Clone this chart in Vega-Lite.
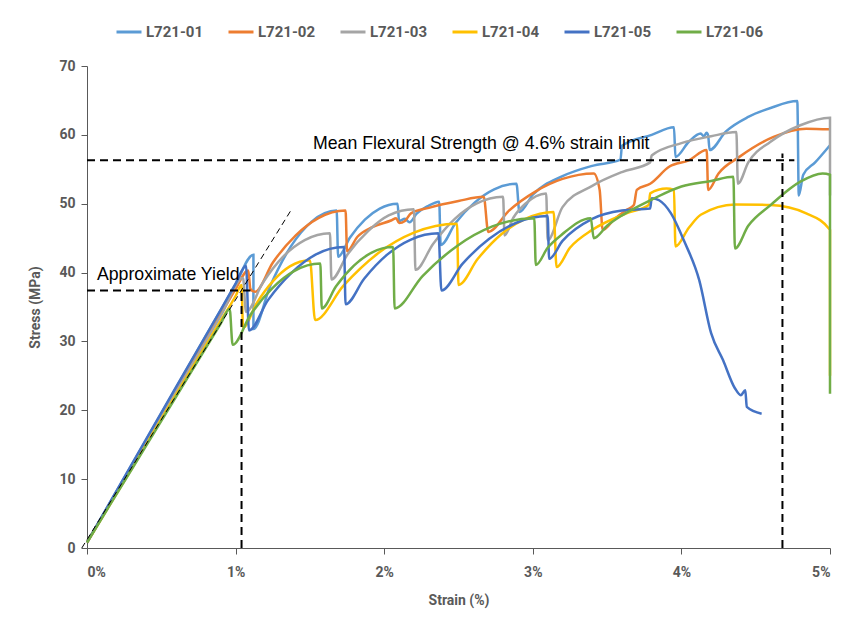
{
  "$schema": "https://vega.github.io/schema/vega-lite/v6.json",
  "autosize": {"type": "none"},
  "width": 743,
  "height": 482,
  "padding": {"left": 87, "top": 66, "right": 23, "bottom": 78},
  "background": "white",
  "config": {
    "view": {"stroke": null},
    "axis": {
      "grid": false,
      "domainColor": "#595959",
      "tickColor": "#595959",
      "tickSize": 6,
      "labelFont": "Roboto, sans-serif",
      "labelFontWeight": "bold",
      "labelFontSize": 14,
      "labelColor": "#595959",
      "titleFont": "Roboto, sans-serif",
      "titleFontWeight": "bold",
      "titleFontSize": 14,
      "titleColor": "#595959"
    }
  },
  "datasets": {
    "curves": [
      {"sample": "L721-01", "strain": 0, "stress": 0.8},
      {"sample": "L721-01", "strain": 0.3, "stress": 12.05},
      {"sample": "L721-01", "strain": 0.6, "stress": 23.3},
      {"sample": "L721-01", "strain": 0.9, "stress": 34.55},
      {"sample": "L721-01", "strain": 1.0, "stress": 38.3},
      {"sample": "L721-01", "strain": 1.12, "stress": 42.6},
      {"sample": "L721-01", "strain": 1.12, "stress": 31.8},
      {"sample": "L721-01", "strain": 1.232, "stress": 38.0},
      {"sample": "L721-01", "strain": 1.372, "stress": 43.8},
      {"sample": "L721-01", "strain": 1.512, "stress": 47.4},
      {"sample": "L721-01", "strain": 1.68, "stress": 49.0},
      {"sample": "L721-01", "strain": 1.69, "stress": 42.3},
      {"sample": "L721-01", "strain": 1.77, "stress": 45.1},
      {"sample": "L721-01", "strain": 1.87, "stress": 47.7},
      {"sample": "L721-01", "strain": 1.97, "stress": 49.3},
      {"sample": "L721-01", "strain": 2.09, "stress": 50.0},
      {"sample": "L721-01", "strain": 2.10, "stress": 47.5},
      {"sample": "L721-01", "strain": 2.14, "stress": 47.8},
      {"sample": "L721-01", "strain": 2.17, "stress": 47.3},
      {"sample": "L721-01", "strain": 2.22, "stress": 48.6},
      {"sample": "L721-01", "strain": 2.29, "stress": 49.6},
      {"sample": "L721-01", "strain": 2.37, "stress": 50.3},
      {"sample": "L721-01", "strain": 2.38, "stress": 44.0},
      {"sample": "L721-01", "strain": 2.48, "stress": 47.2},
      {"sample": "L721-01", "strain": 2.61, "stress": 50.2},
      {"sample": "L721-01", "strain": 2.74, "stress": 52.1},
      {"sample": "L721-01", "strain": 2.89, "stress": 52.9},
      {"sample": "L721-01", "strain": 2.91, "stress": 48.8},
      {"sample": "L721-01", "strain": 3.0, "stress": 51.3},
      {"sample": "L721-01", "strain": 3.2, "stress": 54.0},
      {"sample": "L721-01", "strain": 3.4, "stress": 55.5},
      {"sample": "L721-01", "strain": 3.59, "stress": 56.4},
      {"sample": "L721-01", "strain": 3.60, "stress": 58.4},
      {"sample": "L721-01", "strain": 3.8, "stress": 60.0},
      {"sample": "L721-01", "strain": 3.95, "stress": 61.1},
      {"sample": "L721-01", "strain": 3.96, "stress": 56.8},
      {"sample": "L721-01", "strain": 4.05, "stress": 59.0},
      {"sample": "L721-01", "strain": 4.13, "stress": 60.2},
      {"sample": "L721-01", "strain": 4.15, "stress": 59.8},
      {"sample": "L721-01", "strain": 4.17, "stress": 60.3},
      {"sample": "L721-01", "strain": 4.18, "stress": 59.9},
      {"sample": "L721-01", "strain": 4.19, "stress": 57.8},
      {"sample": "L721-01", "strain": 4.3, "stress": 60.5},
      {"sample": "L721-01", "strain": 4.45, "stress": 62.6},
      {"sample": "L721-01", "strain": 4.6, "stress": 63.9},
      {"sample": "L721-01", "strain": 4.78, "stress": 64.9},
      {"sample": "L721-01", "strain": 4.79, "stress": 51.2},
      {"sample": "L721-01", "strain": 4.82, "stress": 54.2},
      {"sample": "L721-01", "strain": 4.9, "stress": 56.0},
      {"sample": "L721-01", "strain": 5.0, "stress": 58.5},

      {"sample": "L721-02", "strain": 0, "stress": 0.8},
      {"sample": "L721-02", "strain": 0.3, "stress": 11.8},
      {"sample": "L721-02", "strain": 0.6, "stress": 22.9},
      {"sample": "L721-02", "strain": 0.9, "stress": 33.9},
      {"sample": "L721-02", "strain": 1.0, "stress": 37.6},
      {"sample": "L721-02", "strain": 1.085, "stress": 40.3},
      {"sample": "L721-02", "strain": 1.10, "stress": 37.6},
      {"sample": "L721-02", "strain": 1.13, "stress": 37.2},
      {"sample": "L721-02", "strain": 1.252, "stress": 41.5},
      {"sample": "L721-02", "strain": 1.405, "stress": 45.4},
      {"sample": "L721-02", "strain": 1.557, "stress": 47.9},
      {"sample": "L721-02", "strain": 1.74, "stress": 49.0},
      {"sample": "L721-02", "strain": 1.75, "stress": 43.1},
      {"sample": "L721-02", "strain": 1.82, "stress": 45.2},
      {"sample": "L721-02", "strain": 1.92, "stress": 46.6},
      {"sample": "L721-02", "strain": 2.05, "stress": 47.6},
      {"sample": "L721-02", "strain": 2.08, "stress": 47.9},
      {"sample": "L721-02", "strain": 2.10, "stress": 47.2},
      {"sample": "L721-02", "strain": 2.14, "stress": 47.5},
      {"sample": "L721-02", "strain": 2.18, "stress": 48.6},
      {"sample": "L721-02", "strain": 2.3, "stress": 49.4},
      {"sample": "L721-02", "strain": 2.5, "stress": 50.4},
      {"sample": "L721-02", "strain": 2.67, "stress": 51.0},
      {"sample": "L721-02", "strain": 2.70, "stress": 45.9},
      {"sample": "L721-02", "strain": 2.84, "stress": 49.0},
      {"sample": "L721-02", "strain": 3.02, "stress": 51.8},
      {"sample": "L721-02", "strain": 3.20, "stress": 53.6},
      {"sample": "L721-02", "strain": 3.41, "stress": 54.4},
      {"sample": "L721-02", "strain": 3.45, "stress": 52.0},
      {"sample": "L721-02", "strain": 3.47, "stress": 46.2},
      {"sample": "L721-02", "strain": 3.55, "stress": 47.8},
      {"sample": "L721-02", "strain": 3.63, "stress": 49.1},
      {"sample": "L721-02", "strain": 3.68, "stress": 49.8},
      {"sample": "L721-02", "strain": 3.70, "stress": 52.0},
      {"sample": "L721-02", "strain": 3.79, "stress": 52.9},
      {"sample": "L721-02", "strain": 3.92, "stress": 55.4},
      {"sample": "L721-02", "strain": 4.05, "stress": 56.3},
      {"sample": "L721-02", "strain": 4.17, "stress": 57.8},
      {"sample": "L721-02", "strain": 4.18, "stress": 52.0},
      {"sample": "L721-02", "strain": 4.25, "stress": 54.4},
      {"sample": "L721-02", "strain": 4.39, "stress": 56.8},
      {"sample": "L721-02", "strain": 4.62, "stress": 59.7},
      {"sample": "L721-02", "strain": 4.84, "stress": 60.9},
      {"sample": "L721-02", "strain": 5.0, "stress": 60.8},

      {"sample": "L721-03", "strain": 0, "stress": 0.8},
      {"sample": "L721-03", "strain": 0.3, "stress": 11.8},
      {"sample": "L721-03", "strain": 0.6, "stress": 22.7},
      {"sample": "L721-03", "strain": 0.9, "stress": 33.7},
      {"sample": "L721-03", "strain": 1.05, "stress": 39.2},
      {"sample": "L721-03", "strain": 1.07, "stress": 34.3},
      {"sample": "L721-03", "strain": 1.18, "stress": 38.4},
      {"sample": "L721-03", "strain": 1.32, "stress": 42.3},
      {"sample": "L721-03", "strain": 1.465, "stress": 44.7},
      {"sample": "L721-03", "strain": 1.635, "stress": 45.7},
      {"sample": "L721-03", "strain": 1.645, "stress": 39.0},
      {"sample": "L721-03", "strain": 1.755, "stress": 42.7},
      {"sample": "L721-03", "strain": 1.895, "stress": 46.1},
      {"sample": "L721-03", "strain": 2.03, "stress": 48.3},
      {"sample": "L721-03", "strain": 2.20, "stress": 49.2},
      {"sample": "L721-03", "strain": 2.21, "stress": 40.4},
      {"sample": "L721-03", "strain": 2.33, "stress": 44.2},
      {"sample": "L721-03", "strain": 2.475, "stress": 47.8},
      {"sample": "L721-03", "strain": 2.62, "stress": 50.0},
      {"sample": "L721-03", "strain": 2.80, "stress": 51.0},
      {"sample": "L721-03", "strain": 2.81, "stress": 45.4},
      {"sample": "L721-03", "strain": 2.87, "stress": 48.0},
      {"sample": "L721-03", "strain": 2.95, "stress": 50.0},
      {"sample": "L721-03", "strain": 3.09, "stress": 51.5},
      {"sample": "L721-03", "strain": 3.10, "stress": 44.7},
      {"sample": "L721-03", "strain": 3.2, "stress": 49.5},
      {"sample": "L721-03", "strain": 3.4, "stress": 52.6},
      {"sample": "L721-03", "strain": 3.6, "stress": 54.6},
      {"sample": "L721-03", "strain": 3.79, "stress": 56.0},
      {"sample": "L721-03", "strain": 3.80, "stress": 57.0},
      {"sample": "L721-03", "strain": 4.0, "stress": 58.8},
      {"sample": "L721-03", "strain": 4.2, "stress": 59.8},
      {"sample": "L721-03", "strain": 4.37, "stress": 60.4},
      {"sample": "L721-03", "strain": 4.38, "stress": 52.9},
      {"sample": "L721-03", "strain": 4.45, "stress": 56.0},
      {"sample": "L721-03", "strain": 4.6, "stress": 59.0},
      {"sample": "L721-03", "strain": 4.8, "stress": 61.4},
      {"sample": "L721-03", "strain": 5.0, "stress": 62.5},
      {"sample": "L721-03", "strain": 5.0, "stress": 51.2},

      {"sample": "L721-04", "strain": 0, "stress": 0.8},
      {"sample": "L721-04", "strain": 0.3, "stress": 11.5},
      {"sample": "L721-04", "strain": 0.6, "stress": 22.3},
      {"sample": "L721-04", "strain": 0.9, "stress": 33.0},
      {"sample": "L721-04", "strain": 1.0, "stress": 36.6},
      {"sample": "L721-04", "strain": 1.04, "stress": 38.2},
      {"sample": "L721-04", "strain": 1.05, "stress": 32.0},
      {"sample": "L721-04", "strain": 1.14, "stress": 35.5},
      {"sample": "L721-04", "strain": 1.253, "stress": 38.8},
      {"sample": "L721-04", "strain": 1.365, "stress": 40.9},
      {"sample": "L721-04", "strain": 1.50, "stress": 41.8},
      {"sample": "L721-04", "strain": 1.535, "stress": 33.1},
      {"sample": "L721-04", "strain": 1.726, "stress": 38.1},
      {"sample": "L721-04", "strain": 1.965, "stress": 42.9},
      {"sample": "L721-04", "strain": 2.20, "stress": 45.8},
      {"sample": "L721-04", "strain": 2.49, "stress": 47.1},
      {"sample": "L721-04", "strain": 2.50, "stress": 38.2},
      {"sample": "L721-04", "strain": 2.63, "stress": 42.0},
      {"sample": "L721-04", "strain": 2.79, "stress": 45.6},
      {"sample": "L721-04", "strain": 2.95, "stress": 47.8},
      {"sample": "L721-04", "strain": 3.14, "stress": 48.8},
      {"sample": "L721-04", "strain": 3.16, "stress": 40.8},
      {"sample": "L721-04", "strain": 3.25, "stress": 43.6},
      {"sample": "L721-04", "strain": 3.4, "stress": 46.2},
      {"sample": "L721-04", "strain": 3.63, "stress": 48.6},
      {"sample": "L721-04", "strain": 3.78, "stress": 49.8},
      {"sample": "L721-04", "strain": 3.79, "stress": 51.5},
      {"sample": "L721-04", "strain": 3.9, "stress": 52.2},
      {"sample": "L721-04", "strain": 3.95, "stress": 52.0},
      {"sample": "L721-04", "strain": 3.96, "stress": 43.8},
      {"sample": "L721-04", "strain": 4.05, "stress": 46.5},
      {"sample": "L721-04", "strain": 4.13, "stress": 48.4},
      {"sample": "L721-04", "strain": 4.36, "stress": 49.9},
      {"sample": "L721-04", "strain": 4.6, "stress": 49.8},
      {"sample": "L721-04", "strain": 4.84, "stress": 48.6},
      {"sample": "L721-04", "strain": 5.0, "stress": 46.2},
      {"sample": "L721-04", "strain": 5.0, "stress": 25.0},

      {"sample": "L721-05", "strain": 0, "stress": 0.8},
      {"sample": "L721-05", "strain": 0.3, "stress": 12.1},
      {"sample": "L721-05", "strain": 0.6, "stress": 23.4},
      {"sample": "L721-05", "strain": 0.9, "stress": 34.6},
      {"sample": "L721-05", "strain": 1.0, "stress": 38.4},
      {"sample": "L721-05", "strain": 1.07, "stress": 41.0},
      {"sample": "L721-05", "strain": 1.09, "stress": 31.6},
      {"sample": "L721-05", "strain": 1.218, "stress": 36.0},
      {"sample": "L721-05", "strain": 1.378, "stress": 40.0},
      {"sample": "L721-05", "strain": 1.538, "stress": 42.6},
      {"sample": "L721-05", "strain": 1.73, "stress": 43.7},
      {"sample": "L721-05", "strain": 1.74, "stress": 35.4},
      {"sample": "L721-05", "strain": 1.865, "stress": 39.1},
      {"sample": "L721-05", "strain": 2.02, "stress": 42.6},
      {"sample": "L721-05", "strain": 2.18, "stress": 44.8},
      {"sample": "L721-05", "strain": 2.365, "stress": 45.7},
      {"sample": "L721-05", "strain": 2.385, "stress": 37.4},
      {"sample": "L721-05", "strain": 2.528, "stress": 41.3},
      {"sample": "L721-05", "strain": 2.707, "stress": 44.9},
      {"sample": "L721-05", "strain": 2.886, "stress": 47.2},
      {"sample": "L721-05", "strain": 3.10, "stress": 48.2},
      {"sample": "L721-05", "strain": 3.11, "stress": 42.0},
      {"sample": "L721-05", "strain": 3.2, "stress": 44.6},
      {"sample": "L721-05", "strain": 3.4, "stress": 47.8},
      {"sample": "L721-05", "strain": 3.6, "stress": 49.0},
      {"sample": "L721-05", "strain": 3.79, "stress": 49.3},
      {"sample": "L721-05", "strain": 3.80, "stress": 50.8},
      {"sample": "L721-05", "strain": 3.85, "stress": 50.5},
      {"sample": "L721-05", "strain": 3.93, "stress": 48.6},
      {"sample": "L721-05", "strain": 4.02, "stress": 44.5},
      {"sample": "L721-05", "strain": 4.12, "stress": 38.9},
      {"sample": "L721-05", "strain": 4.2, "stress": 31.2},
      {"sample": "L721-05", "strain": 4.28, "stress": 27.3},
      {"sample": "L721-05", "strain": 4.36, "stress": 23.2},
      {"sample": "L721-05", "strain": 4.40, "stress": 22.2},
      {"sample": "L721-05", "strain": 4.43, "stress": 22.9},
      {"sample": "L721-05", "strain": 4.44, "stress": 20.5},
      {"sample": "L721-05", "strain": 4.54, "stress": 19.5},

      {"sample": "L721-06", "strain": 0, "stress": 0.8},
      {"sample": "L721-06", "strain": 0.3, "stress": 11.4},
      {"sample": "L721-06", "strain": 0.6, "stress": 22.0},
      {"sample": "L721-06", "strain": 0.9, "stress": 32.6},
      {"sample": "L721-06", "strain": 0.96, "stress": 34.7},
      {"sample": "L721-06", "strain": 0.98, "stress": 29.5},
      {"sample": "L721-06", "strain": 1.098, "stress": 33.8},
      {"sample": "L721-06", "strain": 1.246, "stress": 37.7},
      {"sample": "L721-06", "strain": 1.393, "stress": 40.2},
      {"sample": "L721-06", "strain": 1.57, "stress": 41.3},
      {"sample": "L721-06", "strain": 1.58, "stress": 34.8},
      {"sample": "L721-06", "strain": 1.676, "stress": 38.0},
      {"sample": "L721-06", "strain": 1.796, "stress": 41.0},
      {"sample": "L721-06", "strain": 1.916, "stress": 42.9},
      {"sample": "L721-06", "strain": 2.06, "stress": 43.7},
      {"sample": "L721-06", "strain": 2.07, "stress": 34.8},
      {"sample": "L721-06", "strain": 2.258, "stress": 39.5},
      {"sample": "L721-06", "strain": 2.493, "stress": 43.9},
      {"sample": "L721-06", "strain": 2.728, "stress": 46.7},
      {"sample": "L721-06", "strain": 3.01, "stress": 47.9},
      {"sample": "L721-06", "strain": 3.02, "stress": 41.1},
      {"sample": "L721-06", "strain": 3.1, "stress": 43.6},
      {"sample": "L721-06", "strain": 3.2, "stress": 45.6},
      {"sample": "L721-06", "strain": 3.39, "stress": 47.9},
      {"sample": "L721-06", "strain": 3.41, "stress": 45.0},
      {"sample": "L721-06", "strain": 3.5, "stress": 46.8},
      {"sample": "L721-06", "strain": 3.6, "stress": 48.3},
      {"sample": "L721-06", "strain": 3.8, "stress": 50.6},
      {"sample": "L721-06", "strain": 4.0, "stress": 52.5},
      {"sample": "L721-06", "strain": 4.2, "stress": 53.3},
      {"sample": "L721-06", "strain": 4.35, "stress": 53.9},
      {"sample": "L721-06", "strain": 4.36, "stress": 43.5},
      {"sample": "L721-06", "strain": 4.45, "stress": 46.8},
      {"sample": "L721-06", "strain": 4.6, "stress": 49.8},
      {"sample": "L721-06", "strain": 4.8, "stress": 53.2},
      {"sample": "L721-06", "strain": 4.95, "stress": 54.4},
      {"sample": "L721-06", "strain": 5.0, "stress": 54.2},
      {"sample": "L721-06", "strain": 5.0, "stress": 22.4}
    ],
    "guides": [
      {"strain": 0, "stress": 56.3, "strain2": 4.76, "stress2": 56.3},
      {"strain": 4.68, "stress": 0, "strain2": 4.68, "stress2": 57.3},
      {"strain": 0, "stress": 37.4, "strain2": 1.10, "stress2": 37.4},
      {"strain": 1.04, "stress": 0, "strain2": 1.04, "stress2": 37.4}
    ],
    "slope": [
      {"strain": -0.035, "stress": 0, "strain2": 1.38, "stress2": 49.3}
    ],
    "notes": [
      {"note": "Approximate Yield", "strain": 0.067, "stress": 39.6},
      {"note": "Mean Flexural Strength @ 4.6% strain limit", "strain": 1.521, "stress": 58.6}
    ]
  },
  "encoding": {
    "x": {
      "field": "strain",
      "type": "quantitative",
      "scale": {"domain": [0, 5], "nice": false},
      "axis": {
        "title": "Strain (%)",
        "values": [0, 1, 2, 3, 4, 5],
        "labelExpr": "datum.value + '%'",
        "labelPadding": 11,
        "titlePadding": 14
      }
    },
    "y": {
      "field": "stress",
      "type": "quantitative",
      "scale": {"domain": [0, 70], "nice": false},
      "axis": {
        "title": "Stress (MPa)",
        "values": [0, 10, 20, 30, 40, 50, 60, 70],
        "labelPadding": 6,
        "titlePadding": 16
      }
    }
  },
  "layer": [
    {
      "data": {"name": "curves"},
      "mark": {"type": "line", "strokeWidth": 2.5, "clip": false, "interpolate": "monotone"},
      "encoding": {
        "order": {"value": null},
        "color": {
          "field": "sample",
          "type": "nominal",
          "scale": {
            "domain": ["L721-01", "L721-02", "L721-03", "L721-04", "L721-05", "L721-06"],
            "range": ["#5B9BD5", "#ED7D31", "#A5A5A5", "#FFC000", "#4472C4", "#70AD47"]
          },
          "legend": {
            "title": null,
            "orient": "none",
            "direction": "horizontal",
            "legendX": 28,
            "legendY": -48,
            "symbolType": "stroke",
            "symbolSize": 625,
            "symbolStrokeWidth": 3,
            "labelOffset": 3,
            "labelFont": "Roboto, sans-serif",
            "labelFontWeight": "bold",
            "labelFontSize": 15,
            "labelColor": "#595959",
            "columnPadding": 18
          }
        }
      }
    },
    {
      "data": {"name": "guides"},
      "mark": {"type": "rule", "color": "black", "strokeWidth": 2, "strokeDash": [8, 5]},
      "encoding": {
        "x2": {"field": "strain2"},
        "y2": {"field": "stress2"}
      }
    },
    {
      "data": {"name": "slope"},
      "mark": {"type": "rule", "color": "black", "strokeWidth": 1, "strokeDash": [6, 4], "clip": false},
      "encoding": {
        "x2": {"field": "strain2"},
        "y2": {"field": "stress2"}
      }
    },
    {
      "data": {"name": "notes"},
      "mark": {"type": "text", "align": "left", "baseline": "middle", "font": "Liberation Sans", "fontSize": 17.7, "color": "black"},
      "encoding": {
        "text": {"field": "note"}
      }
    }
  ]
}
